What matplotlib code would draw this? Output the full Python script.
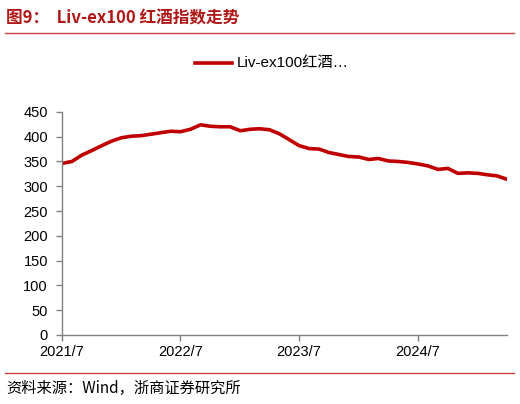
import matplotlib
matplotlib.use('Agg')
import matplotlib.pyplot as plt
import pandas as pd
from matplotlib.lines import Line2D

plt.rcParams['font.family'] = ['Liberation Sans', 'Noto Sans CJK SC', 'DejaVu Sans']

# 月度数据 2021/7 - 2025/4
dates = pd.date_range('2021-07-01', '2025-04-01', freq='MS')
values = [346, 350, 363, 372, 382, 391, 398, 401, 402, 405, 408, 411,
          410, 415, 424, 421, 420, 420, 412, 415, 416, 414, 406, 394,
          382, 376, 375, 368, 364, 360, 359, 354, 356, 351, 350, 348,
          345, 341, 334, 336, 326, 327, 326, 323, 321, 314]
tick_dates = pd.to_datetime(['2021-07-01', '2022-07-01', '2023-07-01', '2024-07-01'])
tick_labels = ['2021/7', '2022/7', '2023/7', '2024/7']
yticks = list(range(0, 451, 50))

red = '#C00000'
gray = '#808080'

fig = plt.figure(figsize=(5.2, 4.04), dpi=100)
ax = fig.add_axes([0.119, 0.171, 0.856, 0.552])
ax.plot(dates, values, color=red, lw=2.6, solid_capstyle='round')

ax.set_ylim(0, 450)
ax.set_yticks(yticks)
ax.set_xlim(pd.Timestamp('2021-07-01'), pd.Timestamp('2025-04-01'))
ax.set_xticks(tick_dates)
ax.set_xticklabels(tick_labels)
for s in ['top', 'right']:
    ax.spines[s].set_visible(False)
for s in ['left', 'bottom']:
    ax.spines[s].set_color(gray)
    ax.spines[s].set_linewidth(1.0)
ax.tick_params(axis='both', colors=gray, labelcolor='#000000', labelsize=10.5,
               length=4, width=1.0, direction='out')
ax.tick_params(axis='y', pad=6)
ax.tick_params(axis='x', pad=3)

# 标题与分隔线
fig.text(0.012, 0.955, '图9：  Liv-ex100 红酒指数走势', color='#B01818', fontsize=12,
         fontweight='bold', family=['Noto Sans CJK SC', 'DejaVu Sans'], va='center')
fig.add_artist(Line2D([0.01, 0.988], [0.918, 0.918], color='#C84040', lw=1.0))
fig.add_artist(Line2D([0.01, 0.988], [0.077, 0.077], color='#C84040', lw=1.0))
fig.text(0.012, 0.038, '资料来源：Wind，浙商证券研究所', fontsize=11,
         family=['Noto Sans CJK SC', 'DejaVu Sans'], va='center')

# 图例
fig.add_artist(Line2D([0.375, 0.447], [0.843, 0.843], color=red, lw=2.6))
fig.text(0.455, 0.843, 'Liv-ex100红酒…', fontsize=11,
         family=['Liberation Sans', 'Noto Sans CJK SC'], va='center')

fig.savefig('out.png', dpi=100)
